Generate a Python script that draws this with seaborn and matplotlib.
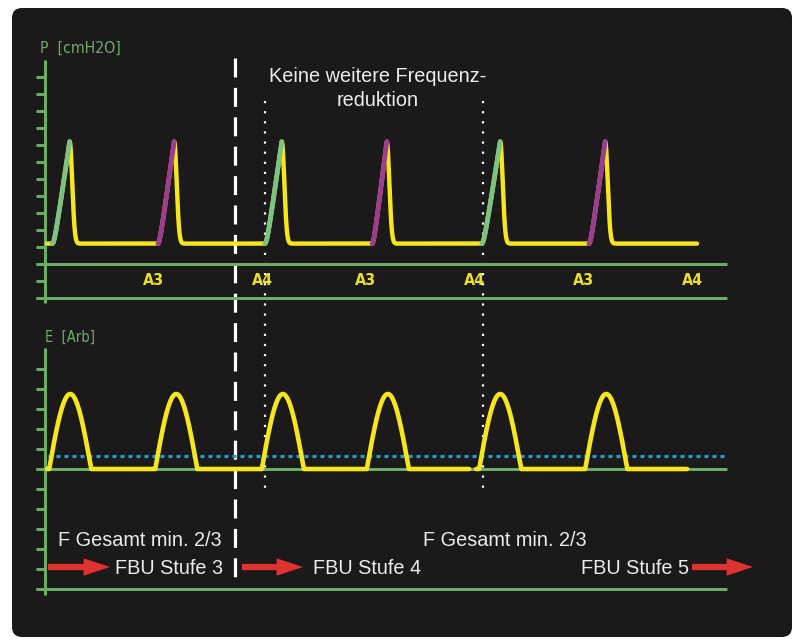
import numpy as np
import pandas as pd
import matplotlib
matplotlib.use("Agg")
import matplotlib.pyplot as plt
from matplotlib.patches import FancyBboxPatch
from matplotlib import font_manager
import seaborn as sns

# ---------------- data ----------------
# pressure curve: breath onsets / peak times (s), PEEP and peak pressure (cmH2O)
p_onsets = [0.14, 2.15, 4.19, 6.23, 8.32, 10.36]
p_peaks = [0.47, 2.46, 4.51, 6.51, 8.67, 10.67]
rise_group = ["A", "B", "A", "B", "A", "B"]
peep = 6.0
pip = 36.0
p_start, p_end = 0.04, 12.42

# E curve (arbitrary units): burst onsets, burst width, burst amplitude, trigger level
e_onsets = [0.08, 2.10, 4.13, 6.13, 8.27, 10.29]
e_width = 0.80
e_peak = 3.75
e_threshold = 0.65
e_sweeps = [(0.04, 8.08), (8.21, 12.23)]

# labels under the pressure curve
a_times = [2.06, 4.15, 6.10, 8.19, 10.25, 12.34]
a_labels = ["A3", "A4", "A3", "A4", "A3", "A4"]

# event markers (s)
stage_change = 3.62
no_reduction = [4.20, 8.34]

# axis grid values
p_ticks = [-10, -5, 0, 5, 10, 15, 20, 25, 30, 35, 40, 45, 50, 55]
e_ticks = [-6, -5, -4, -3, -2, -1, 0, 1, 2, 3, 4, 5]

# ---------------- styling ----------------
W, H = 797, 639
PANEL = "#1b191a"
AXGREEN = "#6aae66"
RISE_COLORS = {"A": "#7cc283", "B": "#9c3d8f"}
YELLOW = "#f6e61c"
BLUE = "#1e9fcf"
RED = "#e0322f"
WHITE = "#ececec"

sns.set_theme(style="white")
plt.rcParams["font.family"] = ["Liberation Sans", "DejaVu Sans"]

# condensed face for the channel captions and mode labels
cond_faces = [f for f in font_manager.fontManager.ttflist
              if f.name in ("DejaVu Sans", "DejaVu Sans Condensed") and
              ("ondensed" in str(f.stretch) or "Condensed" in f.fname)]
if cond_faces:
    NARROW = dict(family="DejaVu Sans", fontstretch="condensed")
else:
    NARROW = dict(family=["Liberation Sans Narrow", "Liberation Sans"])

X0, PXS = 45.0, 52.5            # time origin (px) and px per second
xlim = (-X0 / PXS, (W - X0) / PXS)
t_axis_end = 13.0
tick_len = 9 / PXS
FS = 14.3


def px(v):
    return v * 0.72


fig = plt.figure(figsize=(W / 100, H / 100), dpi=100, facecolor="white")

# dark rounded panel
bg = fig.add_axes([0, 0, 1, 1])
bg.set_xlim(0, W)
bg.set_ylim(H, 0)
bg.set_axis_off()
bg.add_patch(FancyBboxPatch((12, 8), 780, 629, boxstyle="round,pad=0,rounding_size=10",
                            fc=PANEL, ec="none"))

# overlay for markers, notes and arrows (x in seconds, y in rows)
ov = fig.add_axes([0, 0, 1, 1])
ov.set_xlim(*xlim)
ov.set_ylim(H, 0)
ov.set_axis_off()
ov.patch.set_alpha(0)

ov.plot([stage_change, stage_change], [58, 577], color="white", lw=px(3.2),
        linestyle=(0, (19 / 3.2, 10.4 / 3.2)), solid_capstyle="butt")
for tm in no_reduction:
    ov.plot([tm, tm], [101, 493], color="white", lw=px(2.2),
            linestyle=(0, (1, 3.6)))

ov.text(6.34, 82, "Keine weitere Frequenz-", color=WHITE, fontsize=FS,
        ha="center", va="baseline")
ov.text(6.34, 106, "reduktion", color=WHITE, fontsize=FS, ha="center", va="baseline")

ov.text(-5 / PXS, 53, "P  [cmH2O]", color=AXGREEN, fontsize=11.3,
        ha="left", va="baseline", **NARROW)
ov.text(0, 342, "E  [Arb]", color=AXGREEN, fontsize=10.5,
        ha="left", va="baseline", **NARROW)

ov.text((140 - X0) / PXS, 546, "F Gesamt min. 2/3", color=WHITE, fontsize=FS,
        ha="center", va="baseline")
ov.text((505 - X0) / PXS, 546, "F Gesamt min. 2/3", color=WHITE, fontsize=FS,
        ha="center", va="baseline")
ov.text((223 - X0) / PXS, 574, "FBU Stufe 3", color=WHITE, fontsize=FS,
        ha="right", va="baseline")
ov.text((313 - X0) / PXS, 574, "FBU Stufe 4", color=WHITE, fontsize=FS,
        ha="left", va="baseline")
ov.text((689 - X0) / PXS, 574, "FBU Stufe 5", color=WHITE, fontsize=FS,
        ha="right", va="baseline")

arrow_style = "simple,head_length=1.9,head_width=1.25,tail_width=0.45"
for a0, a1 in [(48, 110), (242, 303), (692, 753)]:
    ov.annotate("", xy=((a1 - X0) / PXS, 567), xytext=((a0 - X0) / PXS, 567),
                arrowprops=dict(arrowstyle=arrow_style, mutation_scale=10, color=RED,
                                lw=0, shrinkA=0, shrinkB=0))

# ---------------- pressure panel ----------------
ax_p = fig.add_axes([0, 1 - 320 / H, 1, 280 / H])
ax_p.set_xlim(*xlim)
ax_p.set_ylim((264 - 320) / 3.4, (264 - 40) / 3.4)
ax_p.set_axis_off()
ax_p.patch.set_alpha(0)

t = np.linspace(p_start, p_end, 8000)
tau = 0.068
c = 0.14


def rise_shape(u):
    return (np.sqrt(u ** 2 + c ** 2) - c) / (np.sqrt(1 + c ** 2) - c)


p = np.full_like(t, peep)
for t0, tp in zip(p_onsets, p_peaks):
    u = (t - t0) / (tp - t0)
    p = np.where((u >= 0) & (u < 1), peep + (pip - peep) * rise_shape(np.clip(u, 0, 1)), p)
    s = t - tp
    p = np.where(s >= 0, np.maximum(p, peep + (pip - peep) * np.exp(-(s / tau) ** 2)), p)

p_df = pd.DataFrame({"t": t, "P": p})

rise_rows = []
for i, (t0, tp) in enumerate(zip(p_onsets, p_peaks)):
    tr = np.linspace(t0, tp, 80)
    pr = peep + (pip - peep) * rise_shape((tr - t0) / (tp - t0))
    rise_rows.append(pd.DataFrame({"t": tr, "P": pr, "breath": i, "group": rise_group[i]}))
rise_df = pd.concat(rise_rows, ignore_index=True)

# axis frame
ax_p.vlines(0, (264 - 303) / 3.4, (264 - 60) / 3.4, color=AXGREEN, lw=px(3))
ax_p.hlines(p_ticks, -tick_len, 0, color=AXGREEN, lw=px(3))
ax_p.hlines([0, -10], -tick_len, t_axis_end, color=AXGREEN, lw=px(3))

sns.lineplot(data=p_df, x="t", y="P", ax=ax_p, color=YELLOW, lw=px(4.4),
             estimator=None, sort=False, solid_capstyle="round", solid_joinstyle="round")
sns.lineplot(data=rise_df, x="t", y="P", hue="group", units="breath", ax=ax_p,
             palette=RISE_COLORS, lw=px(4.8), estimator=None, sort=False, legend=False,
             solid_capstyle="round")
ax_p.set_axis_off()

for tm, lab in zip(a_times, a_labels):
    ax_p.text(tm, -6.2, lab, color="#ece11e", fontsize=11.5, fontweight="bold",
              ha="center", va="baseline", **NARROW)

# ---------------- E panel ----------------
ax_e = fig.add_axes([0, 1 - 620 / H, 1, 290 / H])
ax_e.set_xlim(*xlim)
ax_e.set_ylim((469 - 620) / 20, (469 - 330) / 20)
ax_e.patch.set_alpha(0)

ax_e.vlines(0, (469 - 595) / 20, (469 - 348) / 20, color=AXGREEN, lw=px(3))
ax_e.hlines(e_ticks, -tick_len, 0, color=AXGREEN, lw=px(3))
ax_e.hlines([0, -6], -tick_len, t_axis_end, color=AXGREEN, lw=px(3))
ax_e.plot([3 / PXS, (725 - X0) / PXS], [e_threshold, e_threshold], color=BLUE,
          lw=px(3.2), linestyle=(0, (1.25, 1.25)))

e_rows = []
for k, (s0, s1) in enumerate(e_sweeps):
    te = np.linspace(s0, s1, 4000)
    ev = np.zeros_like(te)
    for t0 in e_onsets:
        u = (te - t0) / e_width
        ev = np.where((u >= 0) & (u <= 1), e_peak * np.sin(np.pi * np.clip(u, 0, 1)), ev)
    e_rows.append(pd.DataFrame({"t": te, "E": ev, "sweep": k}))
e_df = pd.concat(e_rows, ignore_index=True)

sns.lineplot(data=e_df, x="t", y="E", units="sweep", ax=ax_e, color=YELLOW,
             lw=px(4.6), estimator=None, sort=False, solid_capstyle="round",
             solid_joinstyle="round")
ax_e.set_axis_off()

fig.savefig("out.png", dpi=100, facecolor="white")
